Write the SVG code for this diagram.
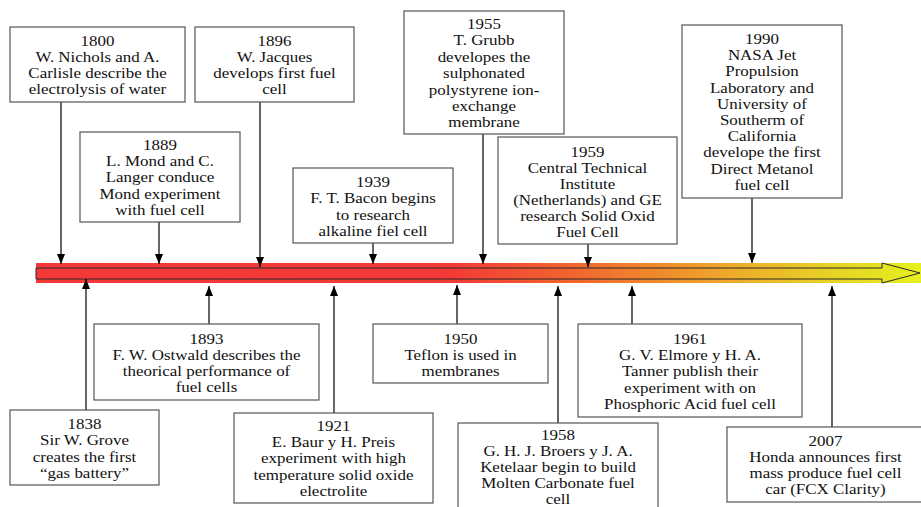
<svg xmlns="http://www.w3.org/2000/svg" width="921" height="507" viewBox="0 0 921 507">
<defs>
<linearGradient id="bar" gradientUnits="userSpaceOnUse" x1="36" y1="0" x2="921" y2="0">
<stop offset="0" stop-color="#f43838"/>
<stop offset="0.47" stop-color="#f43a36"/>
<stop offset="0.62" stop-color="#f06a2c"/>
<stop offset="0.76" stop-color="#f0a02c"/>
<stop offset="0.88" stop-color="#e8cc26"/>
<stop offset="1" stop-color="#e6f01e"/>
</linearGradient>
<marker id="ah" viewBox="0 0 10 8" markerWidth="10" markerHeight="8" refX="10" refY="4" orient="auto" markerUnits="userSpaceOnUse">
<path d="M0,0 L10,4 L0,8 Z" fill="#000"/>
</marker>
</defs>
<style>
.box{fill:#fff;stroke:#555;stroke-width:1.2}
text{font-family:'Liberation Serif','DejaVu Serif','Times New Roman',Times,serif;font-size:15px;fill:#111;text-anchor:middle}
.con{stroke:#000;stroke-width:1.2;fill:none;marker-end:url(#ah)}
</style>
<rect width="921" height="507" fill="#fff"/>
<g id="timeline">
<rect x="36" y="263" width="885" height="20" fill="url(#bar)"/>
<path d="M36,268 H882 V263 L920,273 L882,283 V279 H36 Z" fill="none" stroke="#2a2a2a" stroke-width="1"/>
</g>
<g id="connectors">
<line class="con" x1="61" y1="102" x2="61" y2="264"/>
<line class="con" x1="159" y1="222" x2="159" y2="264"/>
<line class="con" x1="260" y1="102" x2="260" y2="267"/>
<line class="con" x1="373" y1="243" x2="373" y2="264"/>
<line class="con" x1="483" y1="134" x2="483" y2="264"/>
<line class="con" x1="588" y1="244" x2="588" y2="267"/>
<line class="con" x1="752" y1="198" x2="752" y2="263"/>
<line class="con" x1="86" y1="410" x2="86" y2="279"/>
<line class="con" x1="209" y1="324" x2="209" y2="286"/>
<line class="con" x1="334" y1="413" x2="334" y2="286"/>
<line class="con" x1="457" y1="324" x2="457" y2="285"/>
<line class="con" x1="558" y1="423" x2="558" y2="286"/>
<line class="con" x1="632" y1="324" x2="632" y2="286"/>
<line class="con" x1="832" y1="427" x2="832" y2="286"/>
</g>
<g id="n1800">
<rect class="box" x="10" y="27" width="175" height="75"/>
<g transform="translate(97.5 0) scale(1.13 1)">
<text x="0" y="46">1800</text>
<text x="0" y="62">W. Nichols and  A.</text>
<text x="0" y="78">Carlisle describe the</text>
<text x="0" y="94">electrolysis of water</text>
</g>
</g>
<g id="n1896">
<rect class="box" x="195" y="27" width="159" height="75"/>
<g transform="translate(274.5 0) scale(1.13 1)">
<text x="0" y="46">1896</text>
<text x="0" y="62">W. Jacques</text>
<text x="0" y="78">develops first fuel</text>
<text x="0" y="94">cell</text>
</g>
</g>
<g id="n1955">
<rect class="box" x="404" y="11" width="160" height="123"/>
<g transform="translate(484 0) scale(1.13 1)">
<text x="0" y="29">1955</text>
<text x="0" y="45.4">T. Grubb</text>
<text x="0" y="61.8">developes the</text>
<text x="0" y="78.2">sulphonated</text>
<text x="0" y="94.6">polystyrene ion-</text>
<text x="0" y="111">exchange</text>
<text x="0" y="127.4">membrane</text>
</g>
</g>
<g id="n1990">
<rect class="box" x="682" y="25" width="160" height="173"/>
<g transform="translate(762 0) scale(1.13 1)">
<text x="0" y="44">1990</text>
<text x="0" y="60.2">NASA Jet</text>
<text x="0" y="76.4">Propulsion</text>
<text x="0" y="92.6">Laboratory and</text>
<text x="0" y="108.8">University of</text>
<text x="0" y="125">Southerm of</text>
<text x="0" y="141.2">California</text>
<text x="0" y="157.4">develope the first</text>
<text x="0" y="173.6">Direct Metanol</text>
<text x="0" y="189.8">fuel cell</text>
</g>
</g>
<g id="n1889">
<rect class="box" x="80" y="132" width="160" height="90"/>
<g transform="translate(160 0) scale(1.13 1)">
<text x="0" y="150">1889</text>
<text x="0" y="166.2">L. Mond and  C.</text>
<text x="0" y="182.4">Langer conduce</text>
<text x="0" y="198.6">Mond experiment</text>
<text x="0" y="214.8">with fuel cell</text>
</g>
</g>
<g id="n1939">
<rect class="box" x="293" y="168" width="160" height="75"/>
<g transform="translate(373 0) scale(1.13 1)">
<text x="0" y="187">1939</text>
<text x="0" y="203.3">F. T. Bacon begins</text>
<text x="0" y="219.6">to research</text>
<text x="0" y="235.9">alkaline fiel cell</text>
</g>
</g>
<g id="n1959">
<rect class="box" x="498" y="137" width="179" height="107"/>
<g transform="translate(587.5 0) scale(1.13 1)">
<text x="0" y="157">1959</text>
<text x="0" y="173">Central Technical</text>
<text x="0" y="189">Institute</text>
<text x="0" y="205">(Netherlands) and GE</text>
<text x="0" y="221">research Solid Oxid</text>
<text x="0" y="237">Fuel Cell</text>
</g>
</g>
<g id="n1838">
<rect class="box" x="10" y="410" width="149" height="75"/>
<g transform="translate(84.5 0) scale(1.13 1)">
<text x="0" y="429">1838</text>
<text x="0" y="445.3">Sir W. Grove</text>
<text x="0" y="461.6">creates the first</text>
<text x="0" y="477.9">“gas battery”</text>
</g>
</g>
<g id="n1893">
<rect class="box" x="94" y="324" width="225" height="76"/>
<g transform="translate(206.5 0) scale(1.13 1)">
<text x="0" y="344">1893</text>
<text x="0" y="360">F. W. Ostwald describes the</text>
<text x="0" y="376">theorical performance of</text>
<text x="0" y="392">fuel cells</text>
</g>
</g>
<g id="n1921">
<rect class="box" x="234" y="413" width="199" height="90"/>
<g transform="translate(333.5 0) scale(1.13 1)">
<text x="0" y="431">1921</text>
<text x="0" y="447.2">E. Baur y H. Preis</text>
<text x="0" y="463.4">experiment with high</text>
<text x="0" y="479.6">temperature solid oxide</text>
<text x="0" y="495.8">electrolite</text>
</g>
</g>
<g id="n1950">
<rect class="box" x="373" y="324" width="175" height="59"/>
<g transform="translate(460.5 0) scale(1.13 1)">
<text x="0" y="344">1950</text>
<text x="0" y="360">Teflon is used in</text>
<text x="0" y="376">membranes</text>
</g>
</g>
<g id="n1958">
<rect class="box" x="458" y="423" width="200" height="100"/>
<g transform="translate(558 0) scale(1.13 1)">
<text x="0" y="440">1958</text>
<text x="0" y="456">G. H. J. Broers y J. A.</text>
<text x="0" y="472">Ketelaar begin to build</text>
<text x="0" y="488">Molten Carbonate fuel</text>
<text x="0" y="504">cell</text>
</g>
</g>
<g id="n1961">
<rect class="box" x="578" y="324" width="224" height="93"/>
<g transform="translate(690 0) scale(1.13 1)">
<text x="0" y="344">1961</text>
<text x="0" y="360.2">G. V. Elmore y H. A.</text>
<text x="0" y="376.4">Tanner publish their</text>
<text x="0" y="392.6">experiment with on</text>
<text x="0" y="408.8">Phosphoric Acid fuel cell</text>
</g>
</g>
<g id="n2007">
<rect class="box" x="727" y="427" width="198" height="75"/>
<g transform="translate(825.5 0) scale(1.13 1)">
<text x="0" y="446">2007</text>
<text x="0" y="462">Honda announces first</text>
<text x="0" y="478">mass produce fuel cell</text>
<text x="0" y="494">car  (FCX Clarity)</text>
</g>
</g>
</svg>
